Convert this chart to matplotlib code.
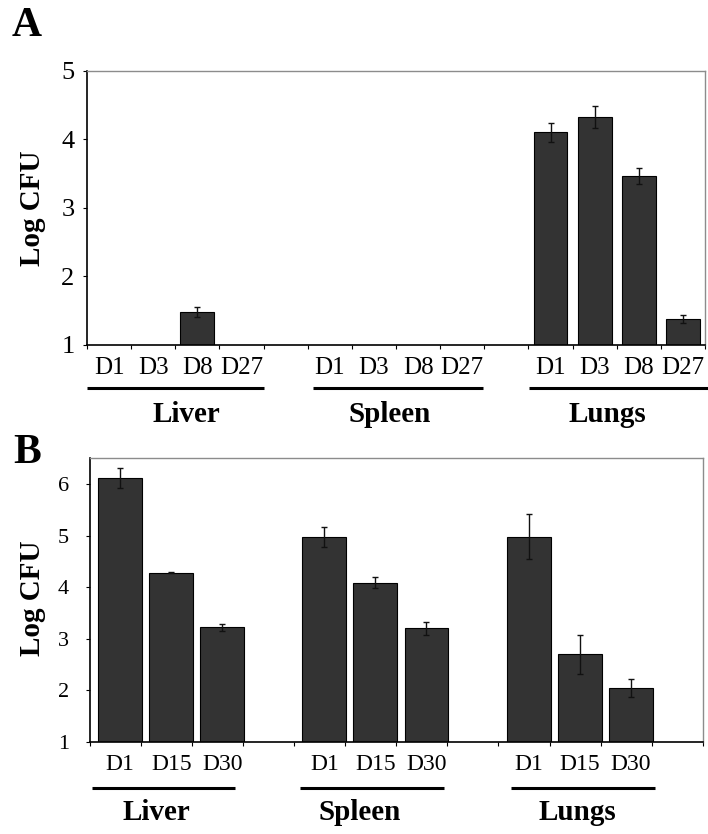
import numpy as np
import matplotlib
matplotlib.use('Agg')
import matplotlib.pyplot as plt
import matplotlib.transforms as mtransforms

plt.rcParams['font.family'] = ['Liberation Serif', 'DejaVu Serif']

# === DATA ===
organs = ['Liver', 'Spleen', 'Lungs']

days_a = ['D1', 'D3', 'D8', 'D27']
# nan = nothing detected (no bar)
liver_a = [np.nan, np.nan, 1.48, np.nan]
liver_a_err = [np.nan, np.nan, 0.07, np.nan]
spleen_a = [np.nan, np.nan, np.nan, np.nan]
spleen_a_err = [np.nan, np.nan, np.nan, np.nan]
lungs_a = [4.10, 4.33, 3.46, 1.37]
lungs_a_err = [0.14, 0.16, 0.12, 0.06]

days_b = ['D1', 'D15', 'D30']
liver_b = [6.12, 4.28, 3.22]
liver_b_err = [0.19, 0.01, 0.07]
spleen_b = [4.97, 4.09, 3.20]
spleen_b_err = [0.20, 0.10, 0.12]
lungs_b = [4.98, 2.70, 2.04]
lungs_b_err = [0.44, 0.38, 0.18]

W, H = 708, 834
fig = plt.figure(figsize=(W / 100, H / 100), dpi=100)

BAR = '#333333'


def style_axes(ax, ymin, ymax, nslots, tick_size):
    ax.set_ylim(ymin, ymax)
    ax.set_xlim(-0.5, nslots - 0.5)
    for s in ['top', 'right']:
        ax.spines[s].set_color('#8c8c8c')
        ax.spines[s].set_linewidth(1.0)
    for s in ['left', 'bottom']:
        ax.spines[s].set_color('black')
        ax.spines[s].set_linewidth(1.2)
    ax.set_yticks(range(int(ymin), int(ymax) + 1))
    ax.tick_params(axis='y', direction='out', length=3, width=0.8,
                   labelsize=tick_size, pad=6)
    ax.set_xticks(np.arange(nslots + 1) - 0.5, minor=True)
    ax.tick_params(axis='x', which='minor', direction='out', length=3, width=0.8)
    ax.tick_params(axis='x', which='major', length=0, pad=9)


def draw_groups(ax, groups, errs, days, per_group, width, shift, label_size):
    centers, labels = [], []
    for g, (vals, ee) in enumerate(zip(groups, errs)):
        x = np.arange(len(vals)) + g * per_group + shift
        v = np.array(vals, dtype=float)
        e = np.array(ee, dtype=float)
        ok = ~np.isnan(v)
        ax.bar(x[ok], v[ok], width=width, bottom=0, color=BAR,
               edgecolor='black', linewidth=0.8, zorder=2)
        ax.errorbar(x[ok], v[ok], yerr=e[ok], fmt='none', ecolor='#111111',
                    elinewidth=1.0, capsize=2, capthick=1.0, zorder=3)
        centers.extend(x)
        labels.extend(days)
    ax.set_xticks(centers)
    ax.set_xticklabels(labels, fontsize=label_size)


def underline_and_name(ax, spans, name_x, line_y, name_y, size):
    trans = mtransforms.blended_transform_factory(ax.transData, ax.transAxes)
    for (x0, x1), nx, name in zip(spans, name_x, organs):
        ax.plot([x0, x1], [line_y, line_y], color='black', lw=2.2,
                transform=trans, clip_on=False, solid_capstyle='butt')
        ax.text(nx, name_y, name, transform=trans, ha='center', va='center',
                fontsize=size, fontweight='bold')


# === PANEL A ===
axA = fig.add_axes([87 / W, 1 - 344.7 / H, 618 / W, 274 / H])
style_axes(axA, 1, 5, 14, 19)
draw_groups(axA, [liver_a, spleen_a, lungs_a],
            [liver_a_err, spleen_a_err, lungs_a_err],
            days_a, 5, 0.77, 0.0, 18)
spans_a = [(-0.5, 3.5), (4.62, 8.47), (9.51, 13.6)]
underline_and_name(axA, spans_a, [1.74, 6.36, 11.28], -0.158, -0.256, 21)
fig.text(33 / W, 1 - 208 / H, 'Log CFU', rotation=90, ha='center',
         va='center', fontsize=21, fontweight='bold')
fig.text(12 / W, 1 - 36 / H, 'A', ha='left', va='baseline',
         fontsize=30, fontweight='bold')

# === PANEL B ===
axB = fig.add_axes([90 / W, 1 - 741.8 / H, 612.7 / W, 283.5 / H])
style_axes(axB, 1, 6.5, 12, 16)
axB.tick_params(axis='y', pad=12)
draw_groups(axB, [liver_b, spleen_b, lungs_b],
            [liver_b_err, spleen_b_err, lungs_b_err],
            days_b, 4, 0.86, 0.09, 17)
spans_b = [(-0.46, 2.34), (3.61, 6.43), (7.75, 10.57)]
underline_and_name(axB, spans_b, [0.8, 4.79, 9.04], -0.162, -0.251, 21)
fig.text(33 / W, 1 - 598 / H, 'Log CFU', rotation=90, ha='center',
         va='center', fontsize=21, fontweight='bold')
fig.text(13 / W, 1 - 463 / H, 'B', ha='left', va='baseline',
         fontsize=30, fontweight='bold')

fig.savefig('out.png', dpi=100)
